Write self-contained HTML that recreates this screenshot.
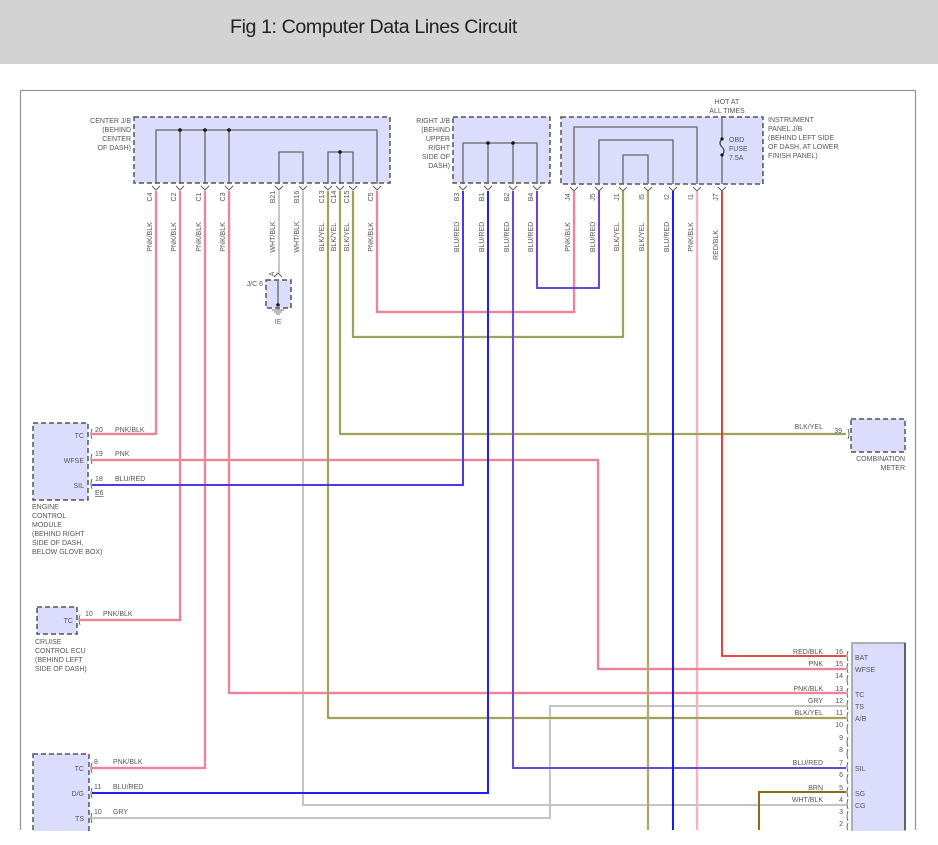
<!DOCTYPE html>
<html><head><meta charset="utf-8"><style>
html,body{margin:0;padding:0;background:#fff;width:938px;height:845px;overflow:hidden}
.hdr{position:absolute;left:0;top:0;width:938px;height:64px;background:#d3d3d3}
.hdr span{position:absolute;left:230px;top:16px;font:19.6px "Liberation Sans",sans-serif;color:#222;letter-spacing:-0.4px}
svg{position:absolute;left:0;top:0}
text{font-family:"Liberation Sans",sans-serif;font-size:7px;fill:#555}
.box{fill:#dcdcfc;stroke:#555;stroke-width:1.5;stroke-dasharray:5 3}
.in{fill:none;stroke:#666;stroke-width:1.3}
.pk{fill:none;stroke:#f29aaa;stroke-width:2.4}
.pkc{fill:none;stroke:#e96a84;stroke-width:0.9}
.pkl{fill:none;stroke:#f4b3bd;stroke-width:2.4}
.bl{fill:none;stroke:#0000ff;stroke-width:1.8}
.br{fill:none;stroke:#4a3ae6;stroke-width:2}
.pu{fill:none;stroke:#6e44e0;stroke-width:2}
.by{fill:none;stroke:#d8d86a;stroke-width:2.4}
.byc{fill:none;stroke:#666;stroke-width:1}
.gy{fill:none;stroke:#c4c4c4;stroke-width:2}
.rd{fill:none;stroke:#e03030;stroke-width:1.8}
.bn{fill:none;stroke:#8b6a1c;stroke-width:2}
.ch{fill:none;stroke:#555;stroke-width:0.9}
</style></head><body>
<div class="hdr"><span>Fig 1: Computer Data Lines Circuit</span></div>
<svg width="938" height="845" viewBox="0 0 938 845">
<path d="M20.5 830 V90.5 H915.5 V830" fill="none" stroke="#999" stroke-width="1.3"/>

<rect class="box" x="134" y="117" width="256" height="66"/>
<rect class="box" x="453" y="117" width="97" height="66"/>
<rect class="box" x="561" y="117" width="202" height="67"/>
<rect class="box" x="266" y="280" width="25" height="28"/>
<rect class="box" x="851" y="419" width="54" height="33"/>
<rect class="box" x="33" y="423" width="55" height="77"/>
<rect class="box" x="37" y="607" width="40" height="27"/>
<rect class="box" x="33" y="754" width="56" height="90"/>
<rect x="852" y="643" width="53" height="200" fill="#dcdcfc" stroke="#999" stroke-width="1.5"/>
<line x1="905" y1="643" x2="905" y2="830" stroke="#222" stroke-width="1.2"/>

<path class="in" d="M156 184 V130 H377 V184 M180 130 V184 M205 130 V184 M229 130 V184 M279 184 V152 H303 V184 M328 184 V152 H353 V184 M340 152 V184"/>
<circle cx="180" cy="130" r="1.8" fill="#111"/><circle cx="205" cy="130" r="1.8" fill="#111"/><circle cx="229" cy="130" r="1.8" fill="#111"/><circle cx="340" cy="152" r="1.8" fill="#111"/>
<path class="in" d="M463 184 V143 H537 V184 M488 143 V184 M513 143 V184"/>
<circle cx="488" cy="143" r="1.8" fill="#111"/><circle cx="513" cy="143" r="1.8" fill="#111"/>
<path class="in" d="M574 184 V127 H697 V184 M599 184 V140 H673 V184 M623 184 V155 H648 V184 M722 116 V138 M722 156 V184"/>
<path d="M722 139 q-4 4 0 8 q4 4 0 8" fill="none" stroke="#444" stroke-width="1.2"/>
<circle cx="722" cy="139" r="1.6" fill="#111"/><circle cx="722" cy="155" r="1.6" fill="#111"/>
<path class="in" d="M278 281 V305"/><circle cx="278" cy="305" r="1.8" fill="#111"/>
<path d="M278 305 V310 M272 310 H284 M274 312 H282 M276 314 H280" stroke="#777" stroke-width="0.9" fill="none"/>

<g class="ch">
<path d="M152 186 L156 190 L160 186 M176 186 L180 190 L184 186 M201 186 L205 190 L209 186 M225 186 L229 190 L233 186 M275 186 L279 190 L283 186 M299 186 L303 190 L307 186 M324 186 L328 190 L332 186 M336 186 L340 190 L344 186 M349 186 L353 190 L357 186 M373 186 L377 190 L381 186"/>
<path d="M459 186 L463 190 L467 186 M484 186 L488 190 L492 186 M509 186 L513 190 L517 186 M533 186 L537 190 L541 186"/>
<path d="M570 187 L574 191 L578 187 M595 187 L599 191 L603 187 M619 187 L623 191 L627 187 M644 187 L648 191 L652 187 M669 187 L673 191 L677 187 M693 187 L697 191 L701 187 M718 187 L722 191 L726 187"/>
<path d="M274 277 L278 273 L282 277"/>
<path d="M92 429 q-2 5 0 10 M92 454 q-2 5 0 10 M92 479 q-2 5 0 10 M80 615 q-2 5 0 10 M92 763 q-2 5 0 10 M92 788 q-2 5 0 10 M92 813 q-2 5 0 10"/>
<path d="M848 429 q2 5 0 10"/>
<path d="M848 651 q-2 5 0 10 M848 663 q-2 5 0 10 M848 675 q-2 5 0 10 M848 688 q-2 5 0 10 M848 700 q-2 5 0 10 M848 712 q-2 5 0 10 M848 724 q-2 5 0 10 M848 737 q-2 5 0 10 M848 749 q-2 5 0 10 M848 762 q-2 5 0 10 M848 774 q-2 5 0 10 M848 787 q-2 5 0 10 M848 799 q-2 5 0 10 M848 811 q-2 5 0 10 M848 823 q-2 5 0 7"/>
</g>

<g>
<path class="gy" d="M303 191 V805 H846"/>
<path class="gy" d="M92 818 H550 V706 H846"/>
<path class="gy" d="M279 191 V273" style="stroke:#aaa;stroke-width:1.3"/>
<path class="pkl" d="M697 191 V830"/>
<path class="pk" d="M156 191 V434 H92"/><path class="pkc" d="M156 191 V434 H92"/>
<path class="pk" d="M180 191 V620 H80"/><path class="pkc" d="M180 191 V620 H80"/>
<path class="pk" d="M205 191 V768 H92"/><path class="pkc" d="M205 191 V768 H92"/>
<path class="pk" d="M229 191 V693 H846"/><path class="pkc" d="M229 191 V693 H846"/>
<path class="pk" d="M377 191 V312 H574 V191"/><path class="pkc" d="M377 191 V312 H574 V191"/>
<path class="pk" d="M92 460 H598 V669 H846"/><path class="pkc" d="M92 460 H598 V669 H846"/>
<path class="by" d="M328 191 V718 H846"/><path class="byc" d="M328 191 V718 H846"/>
<path class="by" d="M340 191 V434 H846"/><path class="byc" d="M340 191 V434 H846"/>
<path class="by" d="M353 191 V337 H623 V191"/><path class="byc" d="M353 191 V337 H623 V191"/>
<path class="by" d="M648 191 V830" style="stroke:#c8c870"/><path class="byc" d="M648 191 V830" style="stroke:#888"/>
<path class="br" d="M463 191 V485 H92"/>
<path class="br" d="M488 191 V793 H92" style="stroke:#2020f0"/>
<path class="pu" d="M513 191 V768 H846"/>
<path class="pu" d="M537 191 V288 H599 V191"/>
<path class="bl" d="M673 191 V830"/>
<path class="rd" d="M722 191 V656 H846"/>
<path class="bn" d="M759 830 V792 H846"/>
</g>

<g text-anchor="end">
<text x="131" y="123">CENTER J/B</text><text x="131" y="132">(BEHIND</text><text x="131" y="141">CENTER</text><text x="131" y="150">OF DASH)</text>
<text x="450" y="123">RIGHT J/B</text><text x="450" y="132">(BEHIND</text><text x="450" y="141">UPPER</text><text x="450" y="150">RIGHT</text><text x="450" y="159">SIDE OF</text><text x="450" y="168">DASH)</text>
<text x="263" y="286">J/C 6</text>
<text x="905" y="461">COMBINATION</text><text x="905" y="470">METER</text>
<text x="84" y="438">TC</text><text x="84" y="463">WFSE</text><text x="84" y="488">SIL</text>
<text x="73" y="623">TC</text>
<text x="84" y="771">TC</text><text x="84" y="796">D/G</text><text x="84" y="821">TS</text>
<text x="823" y="429">BLK/YEL</text><text x="842" y="433">39</text>
<text x="823" y="654">RED/BLK</text><text x="843" y="654">16</text>
<text x="823" y="666">PNK</text><text x="843" y="666">15</text>
<text x="843" y="678">14</text>
<text x="823" y="691">PNK/BLK</text><text x="843" y="691">13</text>
<text x="823" y="703">GRY</text><text x="843" y="703">12</text>
<text x="823" y="715">BLK/YEL</text><text x="843" y="715">11</text>
<text x="843" y="727">10</text><text x="843" y="740">9</text><text x="843" y="752">8</text>
<text x="823" y="765">BLU/RED</text><text x="843" y="765">7</text>
<text x="843" y="777">6</text>
<text x="823" y="790">BRN</text><text x="843" y="790">5</text>
<text x="823" y="802">WHT/BLK</text><text x="843" y="802">4</text>
<text x="843" y="814">3</text><text x="843" y="826">2</text>
</g>
<g>
<text x="727" y="104" text-anchor="middle">HOT AT</text><text x="727" y="113" text-anchor="middle">ALL TIMES</text>
<text x="729" y="142">OBD</text><text x="729" y="151">FUSE</text><text x="729" y="160">7.5A</text>
<text x="768" y="122">INSTRUMENT</text><text x="768" y="131">PANEL J/B</text><text x="768" y="140">(BEHIND LEFT SIDE</text><text x="768" y="149">OF DASH, AT LOWER</text><text x="768" y="158">FINISH PANEL)</text>
<text x="278" y="324" text-anchor="middle" style="fill:#4a6ab0">IE</text>
<text x="95" y="432">20</text><text x="115" y="432">PNK/BLK</text>
<text x="95" y="456">19</text><text x="115" y="456">PNK</text>
<text x="95" y="481">18</text><text x="115" y="481">BLU/RED</text>
<text x="95" y="495" text-decoration="underline">E6</text>
<text x="32" y="509">ENGINE</text><text x="32" y="518">CONTROL</text><text x="32" y="527">MODULE</text><text x="32" y="536">(BEHIND RIGHT</text><text x="32" y="545">SIDE OF DASH,</text><text x="32" y="554">BELOW GLOVE BOX)</text>
<text x="85" y="616">10</text><text x="103" y="616">PNK/BLK</text>
<text x="35" y="644">CRUISE</text><text x="35" y="653">CONTROL ECU</text><text x="35" y="662">(BEHIND LEFT</text><text x="35" y="671">SIDE OF DASH)</text>
<text x="94" y="764">8</text><text x="113" y="764">PNK/BLK</text>
<text x="94" y="789">11</text><text x="113" y="789">BLU/RED</text>
<text x="94" y="814">10</text><text x="113" y="814">GRY</text>
<text x="855" y="660">BAT</text><text x="855" y="672">WFSE</text><text x="855" y="697">TC</text><text x="855" y="709">TS</text><text x="855" y="721">A/B</text><text x="855" y="771">SIL</text><text x="855" y="796">SG</text><text x="855" y="808">CG</text>
</g>
<g text-anchor="middle">
<text transform="translate(152 197) rotate(-90)">C4</text><text transform="translate(152 237) rotate(-90)">PNK/BLK</text>
<text transform="translate(176 197) rotate(-90)">C2</text><text transform="translate(176 237) rotate(-90)">PNK/BLK</text>
<text transform="translate(201 197) rotate(-90)">C1</text><text transform="translate(201 237) rotate(-90)">PNK/BLK</text>
<text transform="translate(225 197) rotate(-90)">C3</text><text transform="translate(225 237) rotate(-90)">PNK/BLK</text>
<text transform="translate(275 197) rotate(-90)">B21</text><text transform="translate(275 237) rotate(-90)">WHT/BLK</text>
<text transform="translate(299 197) rotate(-90)">B16</text><text transform="translate(299 237) rotate(-90)">WHT/BLK</text>
<text transform="translate(324 197) rotate(-90)">C13</text><text transform="translate(324 237) rotate(-90)">BLK/YEL</text>
<text transform="translate(336 197) rotate(-90)">C14</text><text transform="translate(336 237) rotate(-90)">BLK/YEL</text>
<text transform="translate(349 197) rotate(-90)">C15</text><text transform="translate(349 237) rotate(-90)">BLK/YEL</text>
<text transform="translate(373 197) rotate(-90)">C5</text><text transform="translate(373 237) rotate(-90)">PNK/BLK</text>
<text transform="translate(274 274) rotate(-90)">A</text>
<text transform="translate(459 197) rotate(-90)">B3</text><text transform="translate(459 237) rotate(-90)">BLU/RED</text>
<text transform="translate(484 197) rotate(-90)">B1</text><text transform="translate(484 237) rotate(-90)">BLU/RED</text>
<text transform="translate(509 197) rotate(-90)">B2</text><text transform="translate(509 237) rotate(-90)">BLU/RED</text>
<text transform="translate(533 197) rotate(-90)">B4</text><text transform="translate(533 237) rotate(-90)">BLU/RED</text>
<text transform="translate(570 197) rotate(-90)">J4</text><text transform="translate(570 237) rotate(-90)">PNK/BLK</text>
<text transform="translate(595 197) rotate(-90)">J5</text><text transform="translate(595 237) rotate(-90)">BLU/RED</text>
<text transform="translate(619 197) rotate(-90)">J1</text><text transform="translate(619 237) rotate(-90)">BLK/YEL</text>
<text transform="translate(644 197) rotate(-90)">I5</text><text transform="translate(644 237) rotate(-90)">BLK/YEL</text>
<text transform="translate(669 197) rotate(-90)">I2</text><text transform="translate(669 237) rotate(-90)">BLU/RED</text>
<text transform="translate(693 197) rotate(-90)">I1</text><text transform="translate(693 237) rotate(-90)">PNK/BLK</text>
<text transform="translate(718 197) rotate(-90)">J7</text><text transform="translate(718 245) rotate(-90)">RED/BLK</text>
</g>
<rect x="0" y="831" width="938" height="14" fill="#fff"/>
</svg>
</body></html>
